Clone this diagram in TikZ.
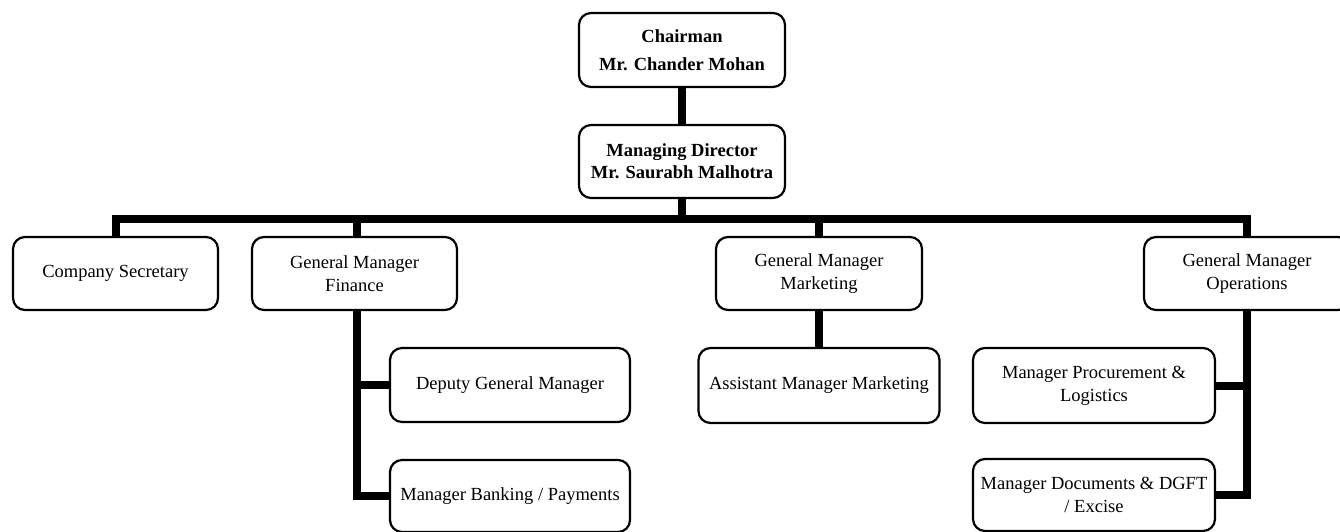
\documentclass[tikz,border=0pt]{standalone}
\usepackage{fontspec}
\setmainfont{Liberation Serif}
\begin{document}
\begin{tikzpicture}[x=1pt,y=-1pt,
  box/.style={draw, rounded corners=12pt, line width=2.2pt, align=center, inner sep=0pt, fill=white},
  txt/.style={font=\fontsize{18.5}{23}\selectfont},
  btxt/.style={font=\bfseries\fontsize{18.5}{22}\selectfont},
  link/.style={line width=8pt, line join=miter}]
\useasboundingbox (0,0) rectangle (1340,531);
\clip (0,0) rectangle (1340,531);
% coordinates for connector routing
\coordinate (busL) at (115,219);
\coordinate (fx) at (357,219);
% nodes
\node[box, btxt, minimum width=206pt, minimum height=74pt] (chair) at (682,50) {Chairman\\[6pt]Mr. Chander Mohan};
\node[box, btxt, minimum width=206pt, minimum height=73pt] (md) at (682,161.5) {Managing Director\\Mr. Saurabh Malhotra};
\node[box, txt, minimum width=205pt, minimum height=73pt] (cs) at (115.5,273.5) {Company Secretary};
\node[box, txt, minimum width=205pt, minimum height=73pt] (gmf) at (354.5,273.5) {General Manager\\Finance};
\node[box, txt, minimum width=206pt, minimum height=73pt] (gmm) at (819,273.5) {General Manager\\Marketing};
\node[box, txt, minimum width=206pt, minimum height=73pt] (gmo) at (1247,273.5) {General Manager\\Operations};
\node[box, txt, minimum width=240pt, minimum height=74pt] (dgm) at (510,385) {Deputy General Manager};
\node[box, txt, minimum width=240pt, minimum height=72pt] (mbp) at (510,496) {Manager Banking / Payments};
\node[box, txt, minimum width=241pt, minimum height=75pt] (amm) at (819,385.5) {Assistant Manager Marketing};
\node[box, txt, minimum width=242pt, minimum height=75pt] (mpl) at (1094,385.5) {Manager Procurement \&\\Logistics};
\node[box, txt, minimum width=242pt, minimum height=72pt] (mdd) at (1094,495) {Manager Documents \& DGFT\\/ Excise};
% connectors
\draw[link] (chair.south) -- (md.north);
\draw[link] (md.south) -- (md.south |- busL);
\draw[link] (cs.north) -- (cs.north |- busL) -- (gmo.north |- busL) -- (gmo.north);
\draw[link] (fx) -- (gmf.north -| fx);
\draw[link] (gmm.north |- busL) -- (gmm.north);
\draw[link] (gmm.south) -- (amm.north);
\draw[link] (gmf.south -| fx) -- (fx |- mbp.west) -- (mbp.west);
\draw[link] (fx |- dgm.west) -- (dgm.west);
\draw[link] (gmo.south) -- (gmo.south |- mdd.east) -- (mdd.east);
\draw[link] (gmo.south |- mpl.east) -- (mpl.east);
\end{tikzpicture}
\end{document}
